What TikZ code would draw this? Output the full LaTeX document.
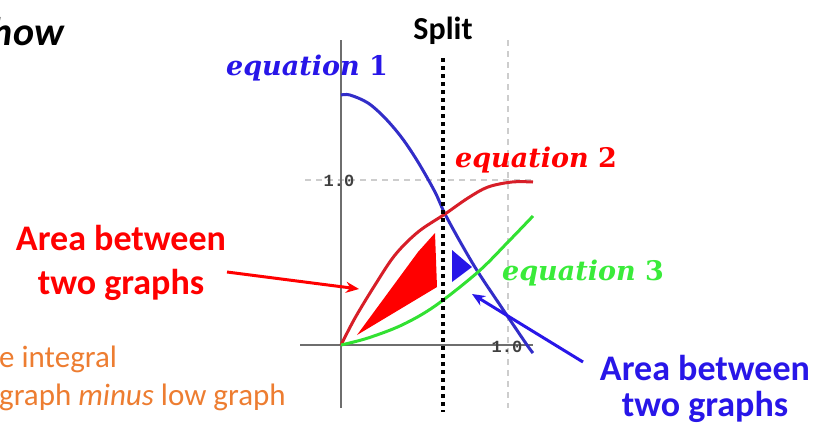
\documentclass[tikz,border=0pt]{standalone}
\usepackage{fontspec}
\setmainfont{Carlito}
\newfontfamily\monofnt{Liberation Mono}
\newfontfamily\eqfnt{DejaVu Serif}
\usetikzlibrary{arrows.meta}
\definecolor{txtblue}{RGB}{40,22,232}
\definecolor{txtred}{RGB}{255,0,0}
\definecolor{txtgreen}{RGB}{58,235,58}
\definecolor{txtorange}{RGB}{237,125,49}
\definecolor{cvblue}{RGB}{50,45,200}
\definecolor{cvred}{RGB}{215,30,40}
\definecolor{cvgreen}{RGB}{50,225,50}
\definecolor{axisgray}{RGB}{110,110,110}
\definecolor{gridgray}{RGB}{205,205,205}
\newcommand{\eqtxt}[1]{\textit{equation} #1}
\tikzset{
  axisline/.style={axisgray, line width=2pt},
  gridline/.style={gridgray, line width=1.6pt, dash pattern=on 6pt off 5pt},
  curve/.style={line width=3pt},
  ticklab/.style={font=\monofnt\bfseries\fontsize{17}{17}\selectfont, text=black!75, inner sep=0pt},
  eqlab/.style={font=\eqfnt\bfseries\fontsize{27}{30}\selectfont, inner sep=0pt, anchor=base},
  biglab/.style={font=\fontsize{36}{44}\selectfont\bfseries, align=center, inner sep=0pt},
  splitline/.style={black, line width=4pt, dash pattern=on 4pt off 4pt},
  callout/.style={line width=3pt, -{Stealth[length=13pt,width=11pt]}},
}
\begin{document}
\begin{tikzpicture}[x=1pt,y=-1pt]
\useasboundingbox (0,0) rectangle (822,426);
% grid
\draw[gridline] (305,180) -- (533,180);
\draw[gridline] (508,40) -- (508,408);
% axes
\draw[axisline] (341,40) -- (341,408);
\draw[axisline] (300,345) -- (533,345);
\node[ticklab] (ty) at (339,181) {1.0};
\node[ticklab] (tx) at (507,347) {1.0};
% curves
\draw[curve, cvblue] plot[smooth, tension=0.55] coordinates {(341,95) (350,95) (368,103) (385,118) (402,138) (418,162) (435,192) (445,214) (462,245) (478,272) (502,308) (527,345) (533,353)};
\draw[curve, cvred] plot[smooth, tension=0.55] coordinates {(341,345) (355,318) (375,285) (395,255) (418,232) (445,214) (468,198) (488,187) (512,182) (533,182)};
\draw[curve, cvgreen] plot[smooth, tension=0.55] coordinates {(341,345) (368,338) (402,325) (435,306) (478,272) (508,242) (533,216)};
% filled areas
\fill[txtred] (357,335) -- (418,252) -- (435,233) -- (437,287) -- cycle;
\fill[txtblue] (452,250) -- (452,282) -- (472,267) -- cycle;
% split
\draw[splitline] (443,58) -- (443,412);
\node[font=\fontsize{32}{32}\selectfont\bfseries, anchor=base, inner sep=0pt] (split) at (443,39) {Split};
% equation labels
\node[eqlab, text=txtblue] (eq1) at (307,75) {\eqtxt{1}};
\node[eqlab, text=txtred] (eq2) at (536,167) {\eqtxt{2}};
\node[eqlab, text=txtgreen] (eq3) at (583,280) {\eqtxt{3}};
% big labels
\node[biglab, text=txtred] (redlab) at (121,263) {Area between\\two graphs};
\node[biglab, text=txtblue, font=\fontsize{36}{36}\selectfont\bfseries] (bluelab) at (705,389) {Area between\\two graphs};
\coordinate (redstart) at (227,272);
\coordinate (redtip) at (359,289);
\coordinate (bluestart) at (583,362);
\coordinate (bluetip) at (472,294);
\draw[callout, txtred] (redstart) -- (redtip);
\draw[callout, txtblue] (bluestart) -- (bluetip);
% clipped text
\node[font=\fontsize{40}{40}\selectfont\bfseries\itshape, anchor=base east, inner sep=0pt] (how) at (64,45) {how};
\node[font=\fontsize{31}{31}\selectfont, text=txtorange, anchor=base west, inner sep=0pt] (o1) at (-1,367) {e integral};
\node[font=\fontsize{31}{31}\selectfont, text=txtorange, anchor=base west, inner sep=0pt] (o2) at (-1,405) {graph \textit{minus} low graph};
\end{tikzpicture}
\end{document}
